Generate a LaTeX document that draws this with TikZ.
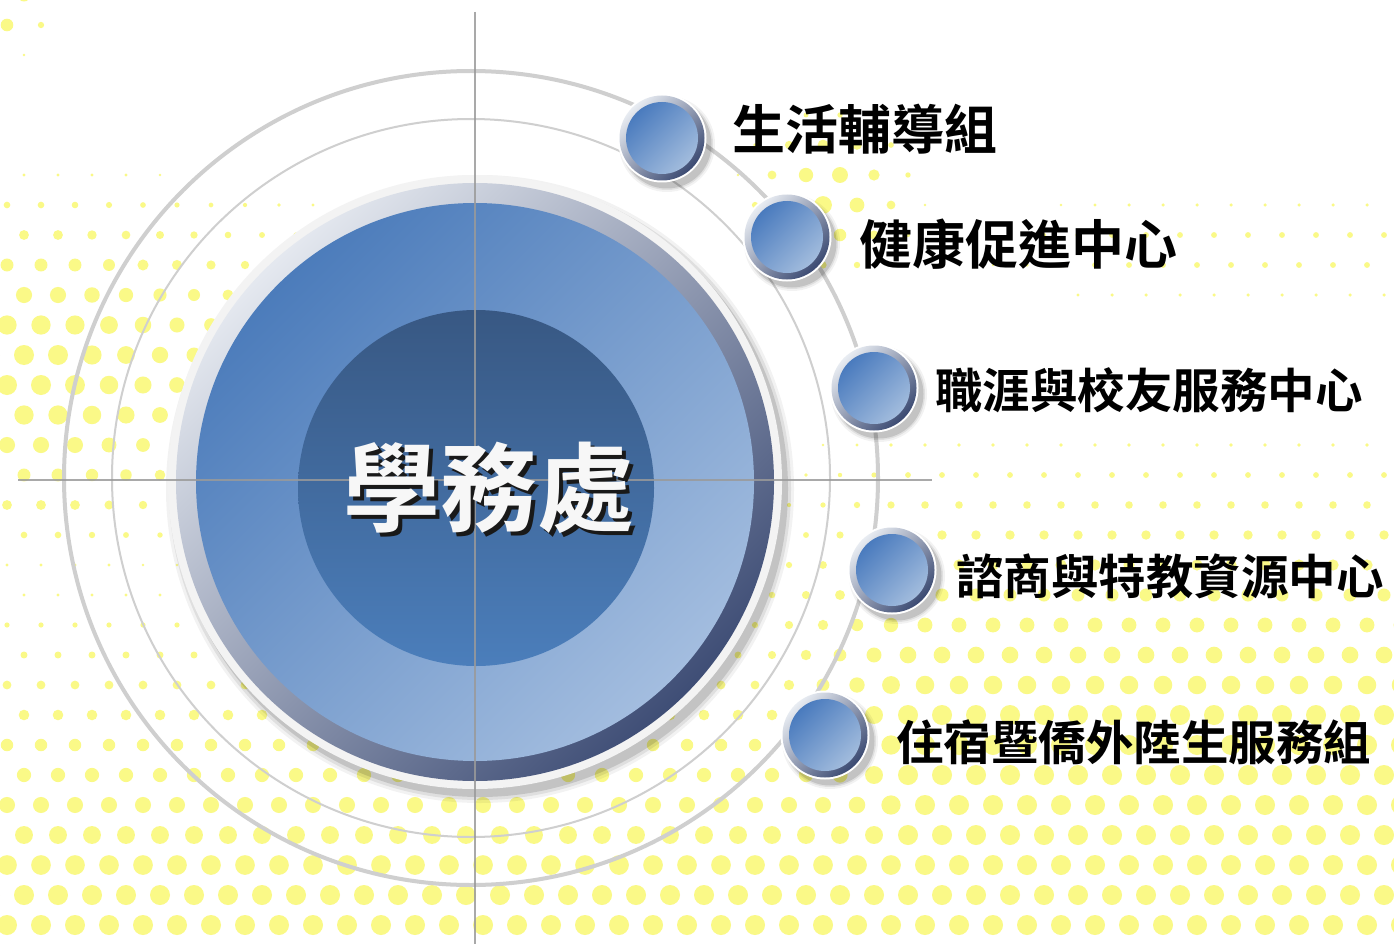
\documentclass[tikz,border=0pt]{standalone}
\usepackage{fontspec}
\newfontfamily\cjk{Noto Sans CJK TC}[BoldFont={Noto Sans CJK TC Bold}]
\definecolor{dotc}{RGB}{250,249,135}
\definecolor{ringgray}{HTML}{CFCFCF}
\definecolor{crossgray}{HTML}{9A9A9A}
\definecolor{whitering}{HTML}{F3F3F3}
\definecolor{bevelA}{HTML}{E4E8EF}
\definecolor{bevelB}{HTML}{3F4E76}
\definecolor{blueA}{HTML}{4C7CBB}
\definecolor{blueB}{HTML}{A3BDDF}
\definecolor{innerA}{HTML}{385883}
\definecolor{innerB}{HTML}{4B7EBB}
\definecolor{bubRingA}{HTML}{E8ECF2}
\definecolor{bubRingB}{HTML}{3B4A72}
\definecolor{bubA}{HTML}{4A7BBE}
\definecolor{bubB}{HTML}{A2BCDD}
\tikzset{
  label/.style={anchor=west, inner sep=0pt, text=black, font=\cjk\bfseries\fontsize{#1}{#1}\selectfont},
  bubshadow/.style={fill=black, opacity=#1},
}
\newcommand\mybubble[1]{%
  \foreach \rr/\oo in {48/0.05,46/0.08,44.5/0.12}{\fill[bubshadow=\oo] ([shift={(5,6)}]#1) circle[radius=\rr pt];}
  \fill[white] (#1) circle[radius=44.5pt];
  \shade[top color=bubRingA, bottom color=bubRingB, shading angle=45] (#1) circle[radius=42.5pt];
  \shade[top color=bubA, bottom color=bubB, shading angle=45] (#1) circle[radius=36pt];
}
\begin{document}
\begin{tikzpicture}[x=1pt,y=-1pt]
\fill[white] (0,0) rectangle (1394,944);
\useasboundingbox (0,0) rectangle (1394,944);
% halftone background
\foreach \j in {0,...,32}{
  \foreach \i in {0,...,42}{
    \pgfmathsetmacro\hX{\i*34 + mod(\j,2)*17 - 10}
    \pgfmathsetmacro\hY{\j*30 - 5}
    \pgfmathsetmacro\hA{min(max((\hY-540)/330,0),1)}
    \pgfmathsetmacro\hB{min(max(1.2-abs(\hY-370)/190,0),1)*min(max(1.15-\hX/480,0),1)}
    \pgfmathsetmacro\hC{min(max((\hY-380)/330,0),1)*min(max((\hX-650)/250,0),1)}
    \pgfmathsetmacro\hD{min(max(1-abs(\hY-250)/90,0),1)*0.35*min(max((\hX-900)/200,0),1)}
    \pgfmathsetmacro\hE{max(1-veclen(\hX-830,\hY-195)/110,0)}
    \pgfmathsetmacro\hF{max(1-veclen(\hX,\hY)/70,0)}
    \pgfmathsetmacro\hR{10*max(\hA,\hB,\hC,\hD,\hE,\hF)}
    \ifdim\hR pt>1.3pt
      \fill[dotc] (\hX,\hY) circle[radius=\hR pt];
    \fi
  }
}
% large thin circles
\coordinate (C) at (471,478);
\draw[line width=4pt, ringgray] (C) circle[radius=407pt];
\draw[line width=2pt, ringgray] (C) circle[radius=359pt];
% main disc
\coordinate (D) at (475,482);
\coordinate (I) at (476,488);
\foreach \rr/\oo in {314/0.05,311/0.08,308/0.12}{\fill[black,opacity=\oo] ([shift={(5,7)}]D) circle[radius=\rr pt];}
\fill[whitering] (D) circle[radius=307pt];
\shade[top color=bevelA, bottom color=bevelB, shading angle=45] (D) circle[radius=299pt];
\shade[top color=blueA, bottom color=blueB, shading angle=45] (D) circle[radius=279pt];
\shade[top color=innerA, bottom color=innerB] (I) circle[radius=178pt];
% crosshair
\coordinate (vt) at (475,12);
\coordinate (vb) at (475,944);
\coordinate (hl) at (18,480);
\coordinate (hr) at (932,480);
\draw[crossgray, line width=2pt, opacity=0.85] (vt) -- (vb);
\draw[crossgray, line width=2pt, opacity=0.85] (hl) -- (hr);
% central title
\node[inner sep=0pt, text=black!90, font=\cjk\bfseries\fontsize{97}{97}\selectfont] (mainshadow) at (493,492) {學務處};
\node[inner sep=0pt, text=white!97!black, font=\cjk\bfseries\fontsize{97}{97}\selectfont] (main) at (489,488) {學務處};
% bubbles
\coordinate (b1) at (662,138);
\coordinate (b2) at (787,237);
\coordinate (b3) at (874,388);
\coordinate (b4) at (892,570);
\coordinate (b5) at (825,735);
\mybubble{b1}
\mybubble{b2}
\mybubble{b3}
\mybubble{b4}
\mybubble{b5}
% labels
\node[label=53] (t1) at (732,129) {生活輔導組};
\node[label=53] (t2) at (859,244) {健康促進中心};
\node[label=47.5] (t3) at (935,390) {職涯與校友服務中心};
\node[label=47.5] (t4) at (956,576) {諮商與特教資源中心};
\node[label=47.5] (t5) at (896,742) {住宿暨僑外陸生服務組};
\end{tikzpicture}
\end{document}
